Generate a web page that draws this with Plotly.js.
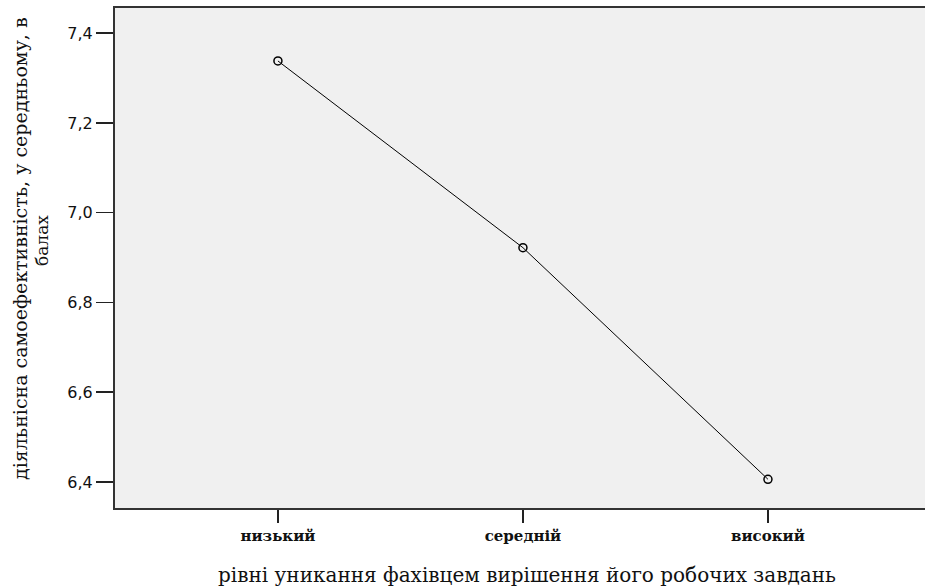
<!DOCTYPE html>
<html>
<head>
<meta charset="utf-8">
<script src="https://cdn.plot.ly/plotly-3.0.1.min.js"></script>
<style>
  html, body { margin: 0; padding: 0; background: #ffffff; overflow: hidden; }
  #chart { width: 925px; height: 586px; }
</style>
</head>
<body>
<div id="chart"></div>
<script>
// Levels of avoiding work tasks and mean activity self-efficacy scores
const levels = ["низький", "середній", "високий"];
const meanScores = [7.338, 6.922, 6.406];
const yTicks = [6.4, 6.6, 6.8, 7.0, 7.2, 7.4];

const yTitleMain = "діяльнісна самоефективність, у середньому, в";
const yTitleSub = "балах";
const xTitle = "рівні уникання фахівцем вирішення його робочих завдань";

const slab = "DejaVu Serif, serif";

const trace = {
  type: "scatter",
  mode: "lines+markers",
  x: [0, 1, 2],
  y: meanScores,
  line: { color: "#000000", width: 1 },
  marker: { symbol: "circle-open", size: 8, color: "#000000", line: { width: 1.5, color: "#000000" } },
  hoverinfo: "skip",
  showlegend: false
};

const layout = {
  width: 925,
  height: 586,
  margin: { l: 115, r: 0, t: 8, b: 78 },
  paper_bgcolor: "#ffffff",
  plot_bgcolor: "#f0f0f0",
  separators: ", ",
  showlegend: false,
  xaxis: {
    // the frame runs on past the right edge, so the right border stays out of view
    range: [-0.665, 2.641],
    tickmode: "array",
    tickvals: [0, 1, 2],
    ticktext: levels,
    ticks: "outside",
    ticklen: 13,
    tickwidth: 1.5,
    tickcolor: "#222222",
    showgrid: false,
    zeroline: false,
    showline: true,
    linecolor: "#333333",
    linewidth: 2,
    mirror: true,
    tickfont: { family: slab, size: 15, color: "#111111", weight: "bold" }
  },
  yaxis: {
    range: [6.342, 7.456],
    tickmode: "array",
    tickvals: yTicks,
    tickformat: ".1f",
    ticks: "outside",
    ticklen: 17,
    tickwidth: 1.5,
    tickcolor: "#222222",
    showgrid: false,
    zeroline: false,
    showline: true,
    linecolor: "#333333",
    linewidth: 2,
    mirror: false,
    tickfont: { family: "DejaVu Sans, Tahoma, sans-serif", size: 16, color: "#111111" }
  },
  annotations: [
    {
      text: yTitleMain,
      xref: "paper", yref: "paper",
      x: 0, y: 0.518,
      xanchor: "center", yanchor: "middle",
      xshift: -95,
      textangle: -90,
      showarrow: false,
      font: { family: slab, size: 19, color: "#111111" }
    },
    {
      text: yTitleSub,
      xref: "paper", yref: "paper",
      x: 0, y: 0.534,
      xanchor: "center", yanchor: "middle",
      xshift: -73,
      textangle: -90,
      showarrow: false,
      font: { family: slab, size: 17, color: "#111111" }
    },
    {
      text: xTitle,
      xref: "paper", yref: "paper",
      x: 0.509, y: -0.134,
      xanchor: "center", yanchor: "middle",
      showarrow: false,
      font: { family: slab, size: 20, color: "#111111" }
    }
  ]
};

Plotly.newPlot("chart", [trace], layout, { displayModeBar: false, staticPlot: true });
</script>
</body>
</html>
